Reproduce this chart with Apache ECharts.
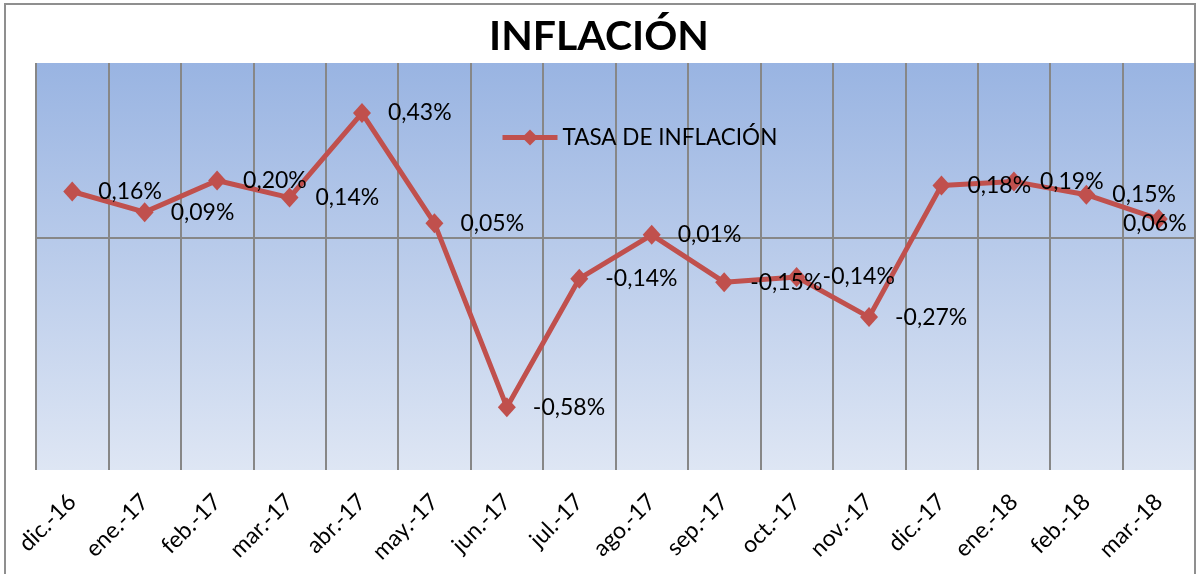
<!DOCTYPE html>
<html>
<head>
<meta charset="utf-8">
<script src="https://cdn.jsdelivr.net/npm/echarts@6/dist/echarts.min.js"></script>
<style>
html,body{margin:0;padding:0;background:#fff;}
#chart{width:1198px;height:574px;}
</style>
</head>
<body>
<div id="chart"></div>
<script>
var categories = ['dic.-16','ene.-17','feb.-17','mar.-17','abr.-17','may.-17','jun.-17','jul.-17','ago.-17','sep.-17','oct.-17','nov.-17','dic.-17','ene.-18','feb.-18','mar.-18'];
var inflation = [0.158, 0.087, 0.196, 0.137, 0.428, 0.049, -0.584, -0.142, 0.009, -0.154, -0.136, -0.274, 0.179, 0.192, 0.147, 0.063];
var seriesName = 'TASA DE INFLACIÓN';
var titleText = 'INFLACIÓN';

var FONT = 'Lato';
var chart = echarts.init(document.getElementById('chart'), null, {renderer: 'canvas'});

function fmt(v) { return v.toFixed(2).replace('.', ',') + '%'; }

var seriesData = inflation.map(function (v, i) {
  if (i === inflation.length - 1) {
    return { value: v, label: { position: 'inside', offset: [-4, 4] } };
  }
  return v;
});

var option = {
  animation: false,
  backgroundColor: '#ffffff',
  title: {
    text: titleText,
    left: 'center',
    top: 11,
    textStyle: { fontFamily: FONT, fontWeight: 'bold', fontSize: 41, color: '#000000' }
  },
  legend: {
    data: [seriesName],
    left: 495,
    top: 121,
    itemWidth: 55,
    itemHeight: 20,
    lineStyle: { width: 5, color: '#c0504d' },
    itemStyle: { color: '#c0504d' },
    textStyle: { fontFamily: FONT, fontSize: 22.5, color: '#000000' }
  },
  grid: {
    left: 36, right: 3, top: 63, bottom: 104,
    show: true,
    borderWidth: 0,
    backgroundColor: new echarts.graphic.LinearGradient(0, 0, 0, 1, [
      { offset: 0, color: '#99b4e2' },
      { offset: 1, color: '#dee6f4' }
    ])
  },
  xAxis: {
    type: 'category',
    data: categories,
    boundaryGap: true,
    axisLine: { show: false },
    axisTick: { show: false },
    splitLine: { show: true, lineStyle: { color: '#878787', width: 2 } },
    axisLabel: { rotate: 45, margin: 28, interval: 0, fontFamily: FONT, fontSize: 23, color: '#000000' }
  },
  yAxis: {
    type: 'value',
    min: -0.8, max: 0.6, interval: 0.2,
    axisLine: { show: false },
    axisTick: { show: false },
    axisLabel: { show: false },
    splitLine: { show: false }
  },
  graphic: [{
    type: 'rect',
    shape: { x: 5, y: 4, width: 1190, height: 600 },
    style: { fill: 'none', stroke: '#8f8f8f', lineWidth: 2 },
    silent: true
  }],
  series: [{
    name: seriesName,
    type: 'line',
    data: seriesData,
    symbol: 'diamond',
    symbolSize: [18, 20],
    itemStyle: { color: '#c0504d' },
    lineStyle: { color: '#c0504d', width: 5 },
    label: {
      show: true,
      position: 'right',
      distance: 17,
      fontFamily: FONT,
      fontSize: 23,
      color: '#000000',
      formatter: function (p) { return fmt(p.value); }
    },
    markLine: {
      silent: true,
      symbol: 'none',
      label: { show: false },
      lineStyle: { color: '#878787', width: 2, type: 'solid' },
      data: [{ yAxis: 0 }],
      z: 1
    },
    z: 3
  }]
};
chart.setOption(option);
</script>
</body>
</html>
